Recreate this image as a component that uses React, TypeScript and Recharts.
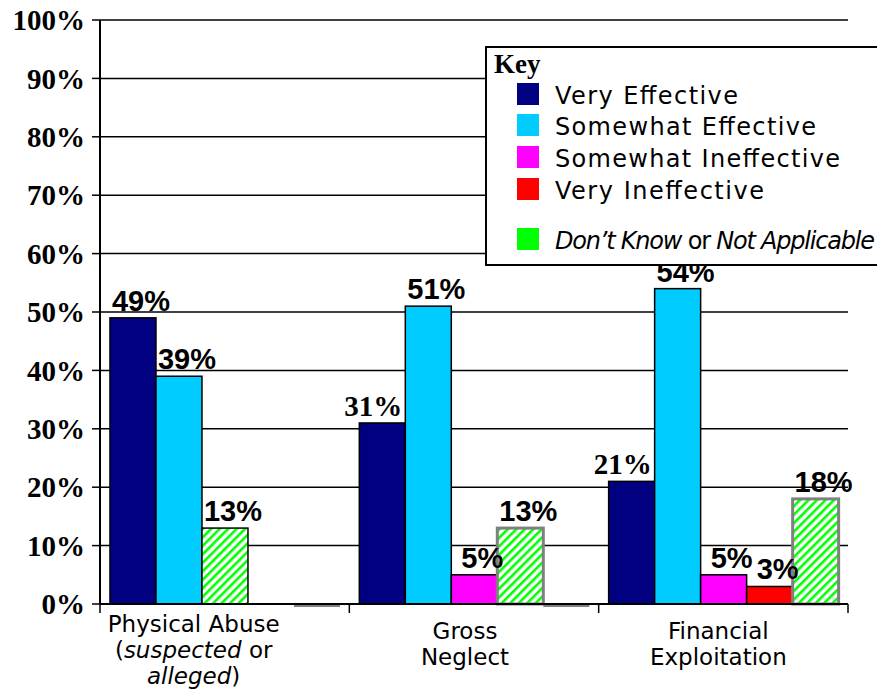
import { BarChart, Bar, XAxis, YAxis, CartesianGrid, LabelList } from "recharts";

const categories = ["Physical Abuse (suspected or alleged)", "Gross Neglect", "Financial Exploitation"];
const responses = ["veryEffective", "somewhatEffective", "somewhatIneffective", "veryIneffective", "dontKnow"];

const veryEffective = [49, 31, 21];
const somewhatEffective = [39, 51, 54];
const somewhatIneffective = [0, 5, 5];
const veryIneffective = [0, 0, 3];
const dontKnow = [13, 13, 18];

const percentTicks = [0, 10, 20, 30, 40, 50, 60, 70, 80, 90, 100];

// category label lines, italic segments flagged with i
const categoryLines = [
  [[{ t: "Physical Abuse" }], [{ t: "(" }, { t: "suspected", i: true }, { t: " or" }], [{ t: "alleged", i: true }, { t: ")" }]],
  [[{ t: "Gross" }], [{ t: "Neglect" }]],
  [[{ t: "Financial" }], [{ t: "Exploitation" }]],
];
// the original labels sit a little left of the group centre
const labelShift = [-31, -9, -5];

const values: Record<string, number[]> = {
  veryEffective,
  somewhatEffective,
  somewhatIneffective,
  veryIneffective,
  dontKnow,
};

const COLORS: Record<string, string> = {
  veryEffective: "#000080",
  somewhatEffective: "#00ccff",
  somewhatIneffective: "#ff00ff",
  veryIneffective: "#ff0000",
  dontKnow: "url(#dkStripes)",
};

const SLOTS = 5;

// zero answers are dropped and the rest packed left, like the original sheet
const rows = categories.map((category, i) => {
  const filled = responses.filter((r) => values[r][i] > 0);
  const row: any = { category, idx: i };
  for (let s = 0; s < SLOTS; s++) {
    const r = filled[s];
    row[`v${s}`] = r ? values[r][i] : s === SLOTS - 1 ? 0 : null;
    row[`r${s}`] = r ?? (s === SLOTS - 1 ? "dontKnow" : null);
  }
  return row;
});

function slotShape(slot: number) {
  return (props: any) => {
    const { x, y, width, height } = props;
    const row = props.payload ?? rows[props.index];
    const resp = row?.[`r${slot}`];
    if (!resp || row[`v${slot}`] == null) return <g />;
    const grey = resp === "dontKnow" && slot >= 3;
    if (!height) {
      return <line x1={x} x2={x + width} y1={y + 1.5} y2={y + 1.5} stroke="#808080" strokeWidth={3} />;
    }
    return (
      <rect
        x={x}
        y={y}
        width={width}
        height={height}
        fill={COLORS[resp]}
        stroke={grey ? "#808080" : "#000"}
        strokeWidth={grey ? 3 : 1.5}
      />
    );
  };
}

function slotLabel(slot: number) {
  return (props: any) => {
    const { x, y, width, value, index } = props;
    if (value == null || value === 0) return null;
    const row = rows[index];
    const serif = row[`r${slot}`] === "veryEffective" && index > 0;
    return (
      <text
        x={x + width / 2 + (serif ? -9 : 8)}
        y={y - 7}
        textAnchor="middle"
        fontFamily={serif ? "Liberation Serif" : "Liberation Sans"}
        fontWeight="bold"
        fontSize={29}
        fill="#000"
      >
        {value}%
      </text>
    );
  };
}

function CategoryTick(props: any) {
  const { x, y, payload } = props;
  const half = payload.offset ?? 0;
  const lines = categoryLines[payload.index] ?? [[{ t: payload.value }]];
  const first = lines.length > 2 ? 28 : 35;
  const cx = x + (labelShift[payload.index] ?? 0);
  return (
    <g>
      <line x1={x - half} x2={x - half} y1={y} y2={y + 9} stroke="#000" strokeWidth={1.5} />
      {payload.index === categories.length - 1 && (
        <line x1={x + half} x2={x + half} y1={y} y2={y + 9} stroke="#000" strokeWidth={1.5} />
      )}
      <text x={cx} y={y} textAnchor="middle" fontFamily="DejaVu Sans" fontSize={23} fill="#000">
        {lines.map((line: any[], li: number) => (
          <tspan key={li} x={cx} dy={li === 0 ? first : 26}>
            {line.map((seg, si) => (
              <tspan key={si} fontStyle={seg.i ? "italic" : "normal"}>
                {seg.t}
              </tspan>
            ))}
          </tspan>
        ))}
      </text>
    </g>
  );
}

const legendItems = [
  { key: "veryEffective", y: 83, len: 183, label: [{ t: "Very Effective" }] },
  { key: "somewhatEffective", y: 114, len: 261, label: [{ t: "Somewhat Effective" }] },
  { key: "somewhatIneffective", y: 146, len: 285, label: [{ t: "Somewhat Ineffective" }] },
  { key: "veryIneffective", y: 178, len: 209, label: [{ t: "Very Ineffective" }] },
  {
    key: "dontKnow",
    y: 228,
    len: 320,
    label: [{ t: "Don’t Know", i: true }, { t: " or " }, { t: "Not Applicable", i: true }],
  },
];

const swatch: Record<string, string> = { ...COLORS, dontKnow: "#00ff00" };

export default function App() {
  return (
    <div style={{ position: "absolute", left: 0, top: 0, width: 877, height: 691, overflow: "hidden", background: "#fff" }}>
      <BarChart
        width={877}
        height={691}
        data={rows}
        margin={{ top: 20, right: 29, bottom: 0, left: 0 }}
        barGap={0}
        barCategoryGap="4%"
      >
        <defs>
          <pattern id="dkStripes" patternUnits="userSpaceOnUse" width={6} height={6} patternTransform="rotate(45)">
            <rect width={6} height={6} fill="#fff" />
            <rect width={2.6} height={6} fill="#00ff00" />
          </pattern>
        </defs>
        <CartesianGrid yAxisId="left" xAxisId="cat" vertical={false} stroke="#000" strokeWidth={1.5} />
        <XAxis
          xAxisId="cat"
          dataKey="category"
          height={87}
          interval={0}
          tickLine={false}
          tickSize={0}
          tickMargin={0}
          axisLine={{ stroke: "#000", strokeWidth: 2 }}
          tick={<CategoryTick />}
        />
        <YAxis
          yAxisId="left"
          domain={[0, 100]}
          ticks={percentTicks}
          interval={0}
          width={100}
          tickSize={8}
          tickMargin={7}
          tickFormatter={(v) => `${v}%`}
          axisLine={{ stroke: "#000", strokeWidth: 2 }}
          tickLine={{ stroke: "#000", strokeWidth: 1.5 }}
          tick={{ fill: "#000", fontFamily: "Liberation Serif", fontWeight: "bold", fontSize: 29 }}
        />
        <YAxis
          yAxisId="right"
          orientation="right"
          domain={[0, 100]}
          width={0}
          tick={false}
          tickLine={false}
          axisLine={{ stroke: "#000", strokeWidth: 2 }}
        />
        {Array.from({ length: SLOTS }, (_, s) => (
          <Bar
            key={s}
            dataKey={`v${s}`}
            xAxisId="cat"
            yAxisId="left"
            isAnimationActive={false}
            shape={slotShape(s)}
          >
            <LabelList dataKey={`v${s}`} content={slotLabel(s)} />
          </Bar>
        ))}
      </BarChart>
      <svg width={877} height={691} style={{ position: "absolute", left: 0, top: 0, pointerEvents: "none" }}>
        <rect x={486} y={47} width={420} height={218} fill="#fff" stroke="#000" strokeWidth={2} />
        <text x={494} y={73} fontFamily="Liberation Serif" fontWeight="bold" fontSize={27} fill="#000">
          Key
        </text>
        {legendItems.map((item) => (
          <g key={item.key}>
            <rect x={517} y={item.y} width={22} height={22} fill={swatch[item.key]} />
            <text
              x={555}
              y={item.y + 21}
              fontFamily="DejaVu Sans"
              fontSize={24}
              textLength={item.len}
              lengthAdjust="spacing"
              fill="#000"
            >
              {item.label.map((seg: any, si) => (
                <tspan key={si} fontStyle={seg.i ? "italic" : "normal"}>
                  {seg.t}
                </tspan>
              ))}
            </text>
          </g>
        ))}
      </svg>
    </div>
  );
}
